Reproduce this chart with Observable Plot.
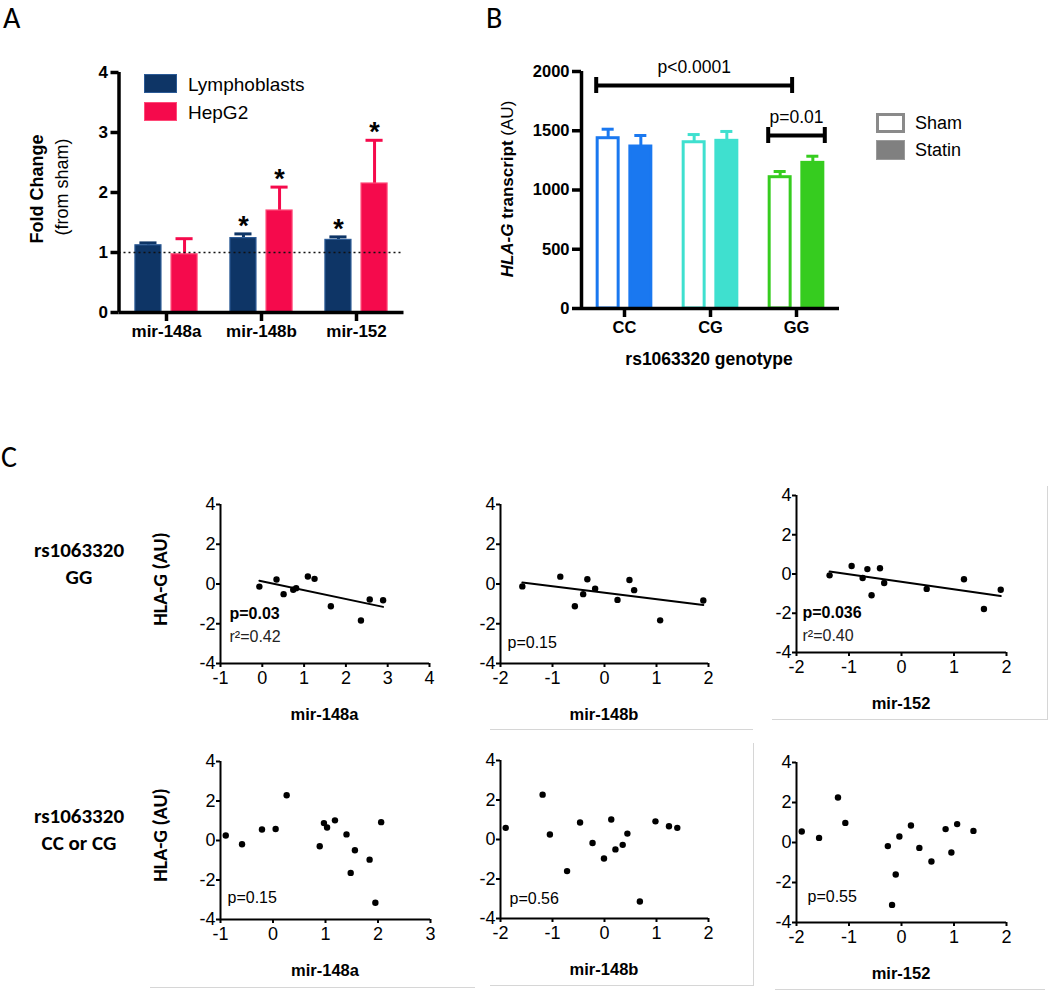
<!DOCTYPE html>
<html><head><meta charset="utf-8">
<script src="https://cdn.jsdelivr.net/npm/d3@7"></script>
<script src="https://cdn.jsdelivr.net/npm/@observablehq/plot@0.6"></script>
<style>
body{margin:0;background:#fff;}
#fig{position:relative;width:1050px;height:991px;background:#fff;overflow:hidden;font-family:"Liberation Sans",Arial,sans-serif;color:#000}
#fig svg{position:absolute;overflow:visible}
.lbl{position:absolute;white-space:nowrap;line-height:1}
.pA g[aria-label*="axis"] path,.pA g[aria-label*="axis"] line,.pB g[aria-label*="axis"] path,.pB g[aria-label*="axis"] line{stroke-width:3.5px}
.pC g[aria-label*="axis"] path,.pC g[aria-label*="axis"] line{stroke-width:2px}
.deco{position:absolute;background:#d6d6d6}
</style></head>
<body><div id="fig"></div>
<script>
// ---------- Panel A data ----------
const aCategories = ["mir-148a", "mir-148b", "mir-152"];
const aSeries = ["Lymphoblasts", "HepG2"];
const lymphoMean = [1.12, 1.24, 1.21];
const lymphoSEM = [0.04, 0.07, 0.05];
const lymphoSig = [false, true, true];
const hepMean = [0.97, 1.70, 2.15];
const hepSEM = [0.26, 0.39, 0.72];
const hepSig = [false, true, true];
const aTicks = [0, 1, 2, 3, 4];

// ---------- Panel B data ----------
const genotypes = ["CC", "CG", "GG"];
const treatments = ["Sham", "Statin"];
const shamMean = [1437, 1403, 1108];
const shamSEM = [76, 65, 48];
const statinMean = [1367, 1415, 1229];
const statinSEM = [93, 79, 56];
const bTicks = [0, 500, 1000, 1500, 2000];
const bracketLabels = ["p<0.0001", "p=0.01"];
const bracketFrom = [["CC", "Sham"], ["GG", "Sham"]];
const bracketTo = [["GG", "Sham"], ["GG", "Statin"]];
const bracketLevel = [1882, 1460];

// ---------- Panel C data ----------
const rowLabels = [["rs1063320", "GG"], ["rs1063320", "CC or CG"]];
const cMirs = ["mir-148a", "mir-148b", "mir-152"];
const gg148aX = [-0.07, 0.34, 0.51, 0.74, 0.81, 1.09, 1.25, 1.64, 2.36, 2.57, 2.89];
const gg148aY = [-0.13, 0.23, -0.51, -0.29, -0.21, 0.38, 0.26, -1.12, -1.84, -0.78, -0.82];
const gg148bX = [-1.58, -0.85, -0.57, -0.41, -0.33, -0.18, 0.25, 0.48, 0.57, 1.07, 1.90];
const gg148bY = [-0.12, 0.37, -1.12, -0.51, 0.24, -0.24, -0.80, 0.20, -0.31, -1.83, -0.83];
const gg152X = [-1.37, -0.95, -0.74, -0.65, -0.57, -0.41, -0.33, 0.48, 1.19, 1.57, 1.89];
const gg152Y = [-0.07, 0.41, -0.20, 0.25, -1.08, 0.29, -0.46, -0.76, -0.27, -1.78, -0.80];
const cc148aX = [-0.90, -0.59, -0.21, 0.05, 0.26, 0.89, 0.97, 1.03, 1.18, 1.40, 1.48, 1.56, 1.84, 1.95, 2.06];
const cc148aY = [0.25, -0.19, 0.56, 0.58, 2.29, -0.29, 0.88, 0.66, 1.02, 0.31, -1.64, -0.49, -0.97, -3.15, 0.93];
const cc148bX = [-1.90, -1.19, -1.05, -0.72, -0.47, -0.23, -0.01, 0.13, 0.21, 0.35, 0.44, 0.68, 0.98, 1.24, 1.40];
const cc148bY = [0.59, 2.27, 0.25, -1.60, 0.86, -0.18, -0.96, 1.01, -0.50, -0.27, 0.30, -3.14, 0.92, 0.67, 0.59];
const cc152X = [-1.90, -1.57, -1.21, -1.07, -0.26, -0.18, -0.11, -0.04, 0.18, 0.34, 0.57, 0.84, 0.95, 1.06, 1.37];
const cc152Y = [0.55, 0.23, 2.25, 0.98, -0.18, -3.12, -1.60, 0.30, 0.85, -0.27, -0.95, 0.67, -0.50, 0.92, 0.58];
const cPValues = ["p=0.03", "p=0.15", "p=0.036", "p=0.15", "p=0.56", "p=0.55"];
const cPSignificant = [true, false, true, false, false, false];
const cR2 = ["r²=0.42", null, "r²=0.40", null, null, null];
const cYTicks = [-4, -2, 0, 2, 4];

// ---------- styles ----------
const ARIAL = '"Liberation Sans", Arial, sans-serif';
const CALIBRI = 'Carlito, Lato, "Open Sans", sans-serif';
const aStyle = {Lymphoblasts: {fill: "#0e3566", stroke: "#2b5a96"}, HepG2: {fill: "#f50a4c", stroke: "#ff4a78"}};
const genoColor = {CC: "#1a78f0", CG: "#3fe0cf", GG: "#36cc1f"};
const DODGE = 0.19;

const fig = document.getElementById("fig");
function place(svg, left, top, cls) {
  svg.style.left = left + "px"; svg.style.top = top + "px";
  svg.classList.add(cls);
  fig.appendChild(svg);
}
function label(html, x, y, o = {}) {
  const d = document.createElement("div");
  d.className = "lbl";
  d.innerHTML = html;
  d.style.left = x + "px"; d.style.top = y + "px";
  d.style.fontSize = (o.size || 16) + "px";
  d.style.fontWeight = o.weight || "normal";
  d.style.fontFamily = o.family || ARIAL;
  const tx = o.anchor === "start" ? "0" : "-50%";
  d.style.transform = `translate(${tx},-50%)` + (o.rotate ? " rotate(-90deg)" : "");
  if (o.align) d.style.textAlign = o.align;
  fig.appendChild(d);
  return d;
}
function box(x, y, w, h, css) {
  const d = document.createElement("div");
  d.style.position = "absolute"; d.style.left = x + "px"; d.style.top = y + "px";
  d.style.width = w + "px"; d.style.height = h + "px"; d.style.boxSizing = "border-box";
  Object.assign(d.style, css);
  fig.appendChild(d);
}

// ================= Panel A =================
const aRows = aCategories.flatMap((c, i) => aSeries.map((s, j) => ({
  i, cat: c, series: s,
  mean: j ? hepMean[i] : lymphoMean[i],
  sem: j ? hepSEM[i] : lymphoSEM[i],
  sig: j ? hepSig[i] : lymphoSig[i],
  xc: i + (j ? 1 : -1) * DODGE
})));
const aHalf = 0.137, aCap = 0.09;
const plotA = Plot.plot({
  width: 420, height: 345, marginLeft: 118.5, marginRight: 16.5, marginTop: 72, marginBottom: 33,
  style: {fontSize: "17px", fontWeight: "bold", fontFamily: ARIAL, background: "transparent", overflow: "visible"},
  color: {type: "identity"},
  x: {domain: [-0.5, 2.5], ticks: [0, 1, 2], tickFormat: i => aCategories[i], tickSize: 9, tickPadding: 3, label: null},
  y: {domain: [0, 4], ticks: aTicks, tickFormat: d => String(d), tickSize: 8, tickPadding: 3, label: null},
  marks: [
    Plot.ruleX(aRows, {x: "xc", y1: "mean", y2: d => d.mean + d.sem, stroke: d => aStyle[d.series].fill, strokeWidth: 3}),
    Plot.ruleY(aRows, {y: d => d.mean + d.sem, x1: d => d.xc - aCap, x2: d => d.xc + aCap, stroke: d => aStyle[d.series].fill, strokeWidth: 3}),
    Plot.rect(aRows, {x1: d => d.xc - aHalf, x2: d => d.xc + aHalf, y1: 0, y2: "mean",
      fill: d => aStyle[d.series].fill, stroke: d => aStyle[d.series].stroke, strokeWidth: 1.2}),
    Plot.ruleY([1], {stroke: "#111", strokeWidth: 1.6, strokeDasharray: "2,3"}),
    Plot.text(aRows.filter(d => d.sig), {x: "xc", y: d => d.mean + d.sem, text: () => "*", fontSize: 27, fontWeight: "bold", dy: -8, fill: "black"}),
    Plot.ruleX([-0.5], {strokeWidth: 3.5}),
    Plot.ruleY([0], {strokeWidth: 3.5})
  ]
});
place(plotA, 0, 0, "pA");
label("A", 3, 18, {size: 30, family: CALIBRI, anchor: "start"});
label("Fold Change", 37, 189, {size: 18, weight: "bold", rotate: true});
label("(from sham)", 62, 187, {size: 18, rotate: true});
aSeries.forEach((s, j) => {
  box(144, 74 + j * 28, 33, 19, {background: aStyle[s].fill, border: "1.5px solid " + aStyle[s].stroke});
  label(s, 188, 84 + j * 28, {size: 19, anchor: "start"});
});

// ================= Panel B =================
const bRows = genotypes.flatMap((g, i) => treatments.map((t, j) => ({
  i, g, t,
  mean: j ? statinMean[i] : shamMean[i],
  sem: j ? statinSEM[i] : shamSEM[i],
  xc: i + (j ? 1 : -1) * DODGE
})));
const bHalf = 0.122, bCap = 0.07;
const edge = ([g, t], side) => genotypes.indexOf(g) + (treatments.indexOf(t) ? 1 : -1) * DODGE + side * (bHalf + 0.017);
const brackets = bracketLabels.map((lab, k) => ({
  lab, level: bracketLevel[k], x1: edge(bracketFrom[k], -1), x2: edge(bracketTo[k], 1)
}));
const plotB = Plot.plot({
  width: 370, height: 400, marginLeft: 101, marginRight: 11, marginTop: 71, marginBottom: 92,
  style: {fontSize: "16.5px", fontWeight: "bold", fontFamily: ARIAL, background: "transparent", overflow: "visible"},
  color: {type: "identity"},
  x: {domain: [-0.5, 2.5], ticks: [0, 1, 2], tickFormat: i => genotypes[i], tickSize: 9, tickPadding: 4, label: null},
  y: {domain: [0, 2000], ticks: bTicks, tickFormat: d => String(d), tickSize: 9, tickPadding: 3, label: null},
  marks: [
    Plot.ruleX(bRows, {x: "xc", y1: "mean", y2: d => d.mean + d.sem, stroke: d => genoColor[d.g], strokeWidth: 3}),
    Plot.ruleY(bRows, {y: d => d.mean + d.sem, x1: d => d.xc - bCap, x2: d => d.xc + bCap, stroke: d => genoColor[d.g], strokeWidth: 3}),
    Plot.rect(bRows, {x1: d => d.xc - bHalf, x2: d => d.xc + bHalf, y1: 0, y2: "mean",
      fill: d => d.t === "Sham" ? "white" : genoColor[d.g], stroke: d => genoColor[d.g], strokeWidth: 3}),
    Plot.ruleY(brackets, {x1: "x1", x2: "x2", y: "level", stroke: "black", strokeWidth: 4}),
    Plot.ruleX(brackets, {x: "x1", y1: "level", y2: "level", insetTop: -8, insetBottom: -8, stroke: "black", strokeWidth: 4}),
    Plot.ruleX(brackets, {x: "x2", y1: "level", y2: "level", insetTop: -8, insetBottom: -8, stroke: "black", strokeWidth: 4}),
    Plot.text(brackets, {x: d => (d.x1 + d.x2) / 2, y: "level", text: "lab", dy: -18, fontSize: 17.5, fontWeight: "normal", fill: "black"}),
    Plot.ruleX([-0.5], {strokeWidth: 3.5}),
    Plot.ruleY([0], {strokeWidth: 3.5})
  ]
});
place(plotB, 480, 0, "pB");
label("B", 486, 18, {size: 30, family: CALIBRI, anchor: "start"});
label('<b><i>HLA-G</i> transcript</b> (AU)', 507, 189, {size: 17, rotate: true});
label("rs1063320 genotype", 709, 360, {size: 17.5, weight: "bold"});
treatments.forEach((t, j) => {
  box(876, 113 + j * 27, 29, 20, j ? {background: "#808080", border: "1.5px solid #9a9a9a"} : {background: "#fff", border: "3px solid #8a8a8a"});
  label(t, 915, 123 + j * 27, {size: 18, anchor: "start"});
});

// ================= Panel C =================
const cXs = [gg148aX, gg148bX, gg152X, cc148aX, cc148bX, cc152X];
const cYs = [gg148aY, gg148bY, gg152Y, cc148aY, cc148bY, cc152Y];
const cDomains = [[-1, 4], [-2, 2], [-2, 2], [-1, 3], [-2, 2], [-2, 2]];
const cGeom = [
  {left: 220, top: 504, w: 209, h: 159, tx: 9, ty: -45},
  {left: 500, top: 504, w: 208, h: 159, tx: 7, ty: -16},
  {left: 796, top: 495, w: 210, h: 157, tx: 6, ty: -35},
  {left: 220, top: 761, w: 210, h: 158, tx: 7, ty: -17},
  {left: 500, top: 760, w: 208, h: 158, tx: 9, ty: -15},
  {left: 796, top: 762, w: 210, h: 160, tx: 11, ty: -21}
];
cGeom.forEach((g, k) => {
  const pts = cXs[k].map((x, i) => ({x, y: cYs[k][i]}));
  const dom = cDomains[k];
  const ML = 45, MT = 12, MR = 14, MB = 40;
  const marks = [
    Plot.ruleX([dom[0]], {strokeWidth: 2}),
    Plot.ruleY([-4], {strokeWidth: 2}),
    Plot.dot(pts, {x: "x", y: "y", r: 3.2, fill: "black", stroke: null})
  ];
  if (k < 3) marks.push(Plot.linearRegressionY(pts, {x: "x", y: "y", ci: 0, stroke: "black", strokeWidth: 2}));
  marks.push(Plot.text([cPValues[k]], {frameAnchor: "bottom-left", textAnchor: "start", dx: g.tx, dy: g.ty,
    text: d => d, fontSize: 16, fontWeight: cPSignificant[k] ? "bold" : "normal", fill: "black"}));
  if (cR2[k]) marks.push(Plot.text([cR2[k]], {frameAnchor: "bottom-left", textAnchor: "start", dx: g.tx, dy: g.ty + 23,
    text: d => d, fontSize: 16, fill: "#222"}));
  const p = Plot.plot({
    width: ML + g.w + MR, height: MT + g.h + MB, marginLeft: ML, marginRight: MR, marginTop: MT, marginBottom: MB,
    style: {fontSize: "18px", fontFamily: ARIAL, background: "transparent", overflow: "visible"},
    x: {domain: dom, ticks: d3.range(dom[0], dom[1] + 1), tickFormat: d => String(d), tickSize: 4, tickPadding: 4, label: null},
    y: {domain: [-4, 4], ticks: cYTicks, tickFormat: d => String(d), tickSize: 4, tickPadding: 1, label: null},
    marks
  });
  place(p, g.left - ML, g.top - MT, "pC");
  label(cMirs[k % 3], g.left + g.w / 2, g.top + g.h + 51, {size: 16.5, weight: "bold"});
});
label("C", 1, 457, {size: 30, family: CALIBRI, anchor: "start"});
rowLabels.forEach((lines, r) => {
  label(lines.join("<br>"), 79, r ? 830 : 564, {size: 21, weight: "bold", family: CALIBRI, align: "center"}).style.lineHeight = "27px";
  label("HLA-G (AU)", 160, r ? 835 : 579, {size: 20, weight: "bold", family: CALIBRI, rotate: true});
});
// faint panel borders from the composed figure
box(490, 729, 263, 1, {background: "#d6d6d6"});
box(753, 743, 1, 243, {background: "#d6d6d6"});
box(772, 719, 276, 1, {background: "#d6d6d6"});
box(1047, 486, 1, 233, {background: "#d6d6d6"});
box(150, 987, 325, 1, {background: "#d6d6d6"});
box(490, 985, 263, 1, {background: "#d6d6d6"});
box(775, 989, 270, 1, {background: "#d6d6d6"});
</script></body></html>
